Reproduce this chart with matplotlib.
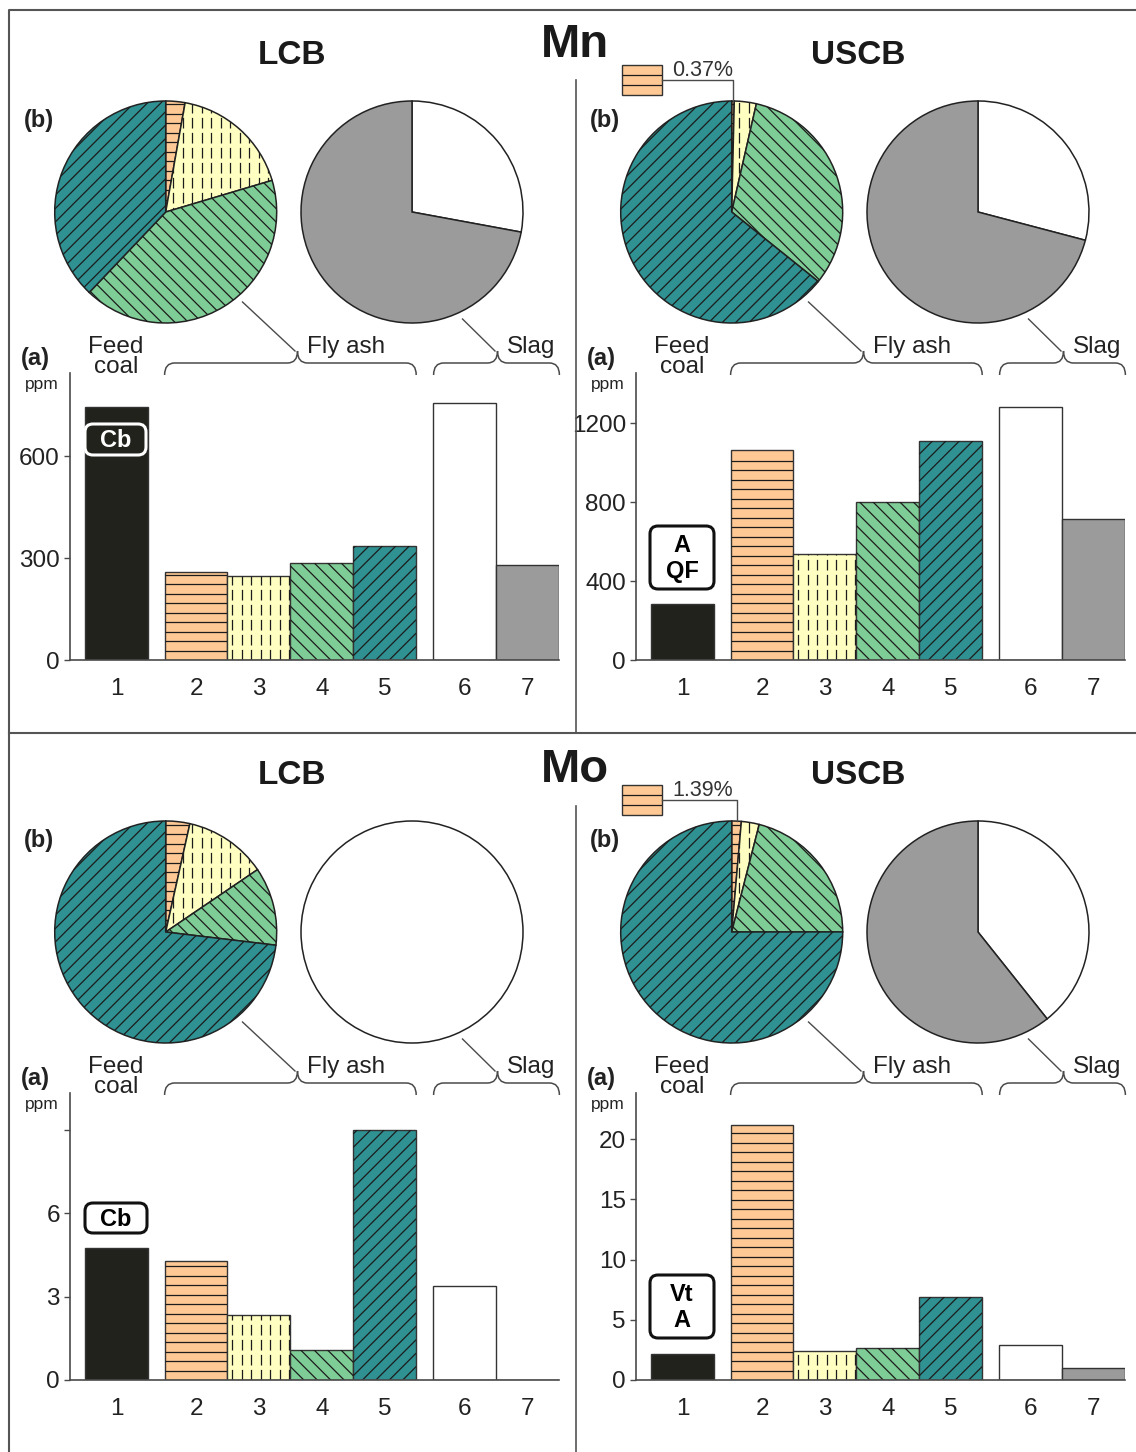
import numpy as np
import matplotlib
matplotlib.use('Agg')
import matplotlib.pyplot as plt
from matplotlib.patches import Rectangle, FancyBboxPatch, PathPatch
from matplotlib.collections import LineCollection
from matplotlib.path import Path

plt.rcParams['font.family'] = ['Liberation Sans', 'DejaVu Sans']

W, H = 1136, 1452

# ---- data ----
samples = ['1', '2', '3', '4', '5', '6', '7']

# concentrations (ppm) of samples 1..7
mn_lcb = [745, 260, 247, 286, 337, 757, 281]
mn_uscb = [284, 1064, 537, 801, 1108, 1284, 715]
mo_lcb = [4.76, 4.28, 2.34, 1.07, 9.0, 3.39, 0.0]
mo_uscb = [2.14, 21.2, 2.37, 2.64, 6.88, 2.87, 1.03]

# pie shares (%) : fly ash = samples 2-5, slag = samples 6-7
mn_lcb_fly = [2.8, 17.6, 41.7, 37.9]
mn_lcb_slag = [27.9, 72.1]
mn_uscb_fly = [0.37, 3.2, 32.2, 64.23]
mn_uscb_slag = [29.1, 70.9]
mo_lcb_fly = [3.5, 12.0, 11.4, 73.1]
mo_lcb_slag = [100.0, 0.0]
mo_uscb_fly = [1.39, 2.6, 21.0, 75.01]
mo_uscb_slag = [39.3, 60.7]

# y axis ticks
mn_lcb_ticks = [0, 300, 600]
mn_uscb_ticks = [0, 400, 800, 1200]
mo_lcb_ticks = [0, 3, 6, 9]
mo_uscb_ticks = [0, 5, 10, 15, 20]

# ---- style ----
fills = ['#22221d', '#fec994', '#ffffc2', '#7fcd96', '#2f9192', '#ffffff', '#9b9b9b']
hatches = [None, 'h', 'v', 'b', 'f', None, None]
xpos = [0, 1.266, 2.266, 3.266, 4.266, 5.54, 6.54]
XLIM = (-0.744, 7.043)
LINE = '#4a4a4a'

fig = plt.figure(figsize=(W / 100, H / 100), dpi=100)


def px_axes(x0, y0, w, h):
    return fig.add_axes([x0 / W, 1 - (y0 + h) / H, w / W, h / H])


def add_hatch(ax, patch, kind, x0, x1, y0, y1, sx, sy, step=9.5):
    X0, X1, Y0, Y1 = x0 * sx, x1 * sx, y0 * sy, y1 * sy
    segs = []
    if kind == 'h':
        for Y in np.arange(Y0 + step, Y1 - 1, step):
            segs.append([(x0, Y / sy), (x1, Y / sy)])
    elif kind == 'v':
        for X in np.arange(X0 + step / 2, X1, step):
            segs.append([(X / sx, y0), (X / sx, y1)])
    else:
        sgn = 1 if kind == 'f' else -1
        cs = [Y0 - sgn * X0, Y0 - sgn * X1, Y1 - sgn * X0, Y1 - sgn * X1]
        for c in np.arange(min(cs), max(cs), step * np.sqrt(2)):
            segs.append([(X0 / sx, (sgn * X0 + c) / sy), (X1 / sx, (sgn * X1 + c) / sy)])
    ls = (0, (8.5, 3.5)) if kind == 'v' else 'solid'
    lc = LineCollection(segs, colors='#1c1c1c', linewidths=0.9, linestyles=ls,
                        zorder=patch.get_zorder() + 0.1)
    ax.add_collection(lc, autolim=False)
    lc.set_clip_path(patch)


def bar_panel(dx, dy, vals, ticks, ymax, ticklabels=None):
    left, right, top, base = 69.6, 559.4, 373, 660
    ax = px_axes(left + dx, top + dy, right - left, base - top)
    sx = (right - left) / (XLIM[1] - XLIM[0])
    sy = (base - top) / ymax
    bars = ax.bar(xpos, vals, width=1, color=fills, edgecolor='#333333', linewidth=1)
    for x, v, rect, hk in zip(xpos, vals, bars, hatches):
        if hk and v > 0:
            add_hatch(ax, rect, hk, x - 0.5, x + 0.5, 0, v, sx, sy)
    ax.set_xlim(*XLIM)
    ax.set_ylim(0, ymax)
    ax.set_xticks(xpos, samples)
    ax.set_yticks(ticks, ticklabels if ticklabels else [str(t) for t in ticks])
    ax.tick_params(axis='x', length=0, pad=13, labelsize=17.5, labelcolor='#222222')
    ax.tick_params(axis='y', length=4, width=1, color=LINE, pad=3, labelsize=17.5, labelcolor='#222222')
    for s in ['top', 'right']:
        ax.spines[s].set_visible(False)
    for s in ['left', 'bottom']:
        ax.spines[s].set_color(LINE)
        ax.spines[s].set_linewidth(1.2)
    ax.patch.set_visible(False)
    return ax


def pie_panel(cx, cy, r, shares, cols, kinds):
    ax = px_axes(cx - r, cy - r, 2 * r, 2 * r)
    keep = [i for i, v in enumerate(shares) if v > 0]
    wedges, _ = ax.pie([shares[i] for i in keep], colors=[cols[i] for i in keep],
                       startangle=90, counterclock=False, radius=1,
                       wedgeprops=dict(edgecolor='#222222', linewidth=1.1))
    for w, i in zip(wedges, keep):
        w.set_clip_on(False)
        if kinds[i]:
            add_hatch(ax, w, kinds[i], -1, 1, -1, 1, r, r)
    ax.set_xlim(-1, 1)
    ax.set_ylim(-1, 1)
    ax.axis('off')
    return ax


# ---- panels ----
panels = [
    # dx, dy, bars, ticks, ymax, fly, slag, ticklabels
    (0, 0, mn_lcb, mn_lcb_ticks, 845, mn_lcb_fly, mn_lcb_slag, None),
    (566, 0, mn_uscb, mn_uscb_ticks, 1455, mn_uscb_fly, mn_uscb_slag, None),
    (0, 720, mo_lcb, mo_lcb_ticks, 10.33, mo_lcb_fly, mo_lcb_slag, ['0', '3', '6', '']),
    (566, 720, mo_uscb, mo_uscb_ticks, 23.85, mo_uscb_fly, mo_uscb_slag, None),
]
for dx, dy, vals, ticks, ymax, fly, slag, tl in panels:
    bar_panel(dx, dy, vals, ticks, ymax, tl)
    pie_panel(165.7 + dx, 212 + dy, 111, fly, fills[1:5], hatches[1:5])
    pie_panel(412 + dx, 212 + dy, 111, slag, fills[5:7], hatches[5:7])

# ---- overlay: frame, labels, braces, callouts ----
ov = fig.add_axes([0, 0, 1, 1])
ov.set_xlim(0, W)
ov.set_ylim(H, 0)
ov.axis('off')
ov.patch.set_visible(False)

ov.plot([8.5, 8.5, W], [H, 10, 10], color='#555555', lw=1.5)
ov.plot([8.5, W], [733, 733], color='#555555', lw=1.5)
ov.plot([575.5, 575.5], [80, 733], color='#555555', lw=1.2)
ov.plot([575.5, 575.5], [806, H], color='#555555', lw=1.2)

ov.text(575, 45, 'Mn', ha='center', va='center', fontsize=34, fontweight='bold', color='#1a1a1a')
ov.text(575, 770, 'Mo', ha='center', va='center', fontsize=34, fontweight='bold', color='#1a1a1a')


def brace(x0, x1, xt, yb, yt, ytip, r=10):
    verts = [(x0, yb), (x0, yt), (x0 + r, yt), (xt - r, yt), (xt, yt), (xt, ytip),
             (xt, yt), (xt + r, yt), (x1 - r, yt), (x1, yt), (x1, yb)]
    codes = [Path.MOVETO, Path.CURVE3, Path.CURVE3, Path.LINETO, Path.CURVE3, Path.CURVE3,
             Path.CURVE3, Path.CURVE3, Path.LINETO, Path.CURVE3, Path.CURVE3]
    ov.add_patch(PathPatch(Path(verts, codes), fc='none', ec=LINE, lw=1.1))


def hatched_key(x0, y0, x1, y1):
    rect = Rectangle((x0, y0), x1 - x0, y1 - y0, fc=fills[1], ec='#333333', lw=1)
    ov.add_patch(rect)
    add_hatch(ov, rect, 'h', x0, x1, y0, y1, 1, 1, step=10)


for dx, dy, basin in [(0, 0, 'LCB'), (566, 0, 'USCB'), (0, 720, 'LCB'), (566, 720, 'USCB')]:
    ov.text(292 + dx, 55 + dy, basin, ha='center', va='center', fontsize=24, fontweight='bold', color='#1a1a1a')
    ov.text(38.5 + dx, 121 + dy, '(b)', ha='center', va='center', fontsize=17, fontweight='bold', color='#222222')
    ov.text(35 + dx, 358 + dy, '(a)', ha='center', va='center', fontsize=17, fontweight='bold', color='#222222')
    ov.text(42 + dx, 385 + dy, 'ppm', ha='center', va='center', fontsize=12.5, color='#222222')
    ov.text(116 + dx, 347 + dy, 'Feed', ha='center', va='center', fontsize=17.5, color='#222222')
    ov.text(116 + dx, 367 + dy, 'coal', ha='center', va='center', fontsize=17.5, color='#222222')
    ov.text(346 + dx, 347 + dy, 'Fly ash', ha='center', va='center', fontsize=17.5, color='#222222')
    ov.text(531 + dx, 347 + dy, 'Slag', ha='center', va='center', fontsize=17.5, color='#222222')
    brace(164.6 + dx, 416.2 + dx, 297.5 + dx, 375 + dy, 363 + dy, 351 + dy)
    brace(433.6 + dx, 559.4 + dx, 497.5 + dx, 375 + dy, 363 + dy, 351 + dy)
    ov.plot([242.5 + dx, 295 + dx], [302 + dy, 351 + dy], color=LINE, lw=1)
    ov.plot([462.5 + dx, 495 + dx], [319 + dy, 351 + dy], color=LINE, lw=1)

# orange share callouts for USCB fly-ash pies
for dy, share in [(0, mn_uscb_fly[0]), (720, mo_uscb_fly[0])]:
    cx, top = 165.7 + 566, 212 + dy - 111
    xl = cx + 111 * np.sin(np.radians(share * 3.6 / 2))
    hatched_key(622, 65 + dy, 662, 95 + dy)
    ov.plot([662, xl, xl], [80 + dy, 80 + dy, top], color=LINE, lw=1)
    ov.text(672, 70 + dy, f'{share:.2f}%', ha='left', va='center', fontsize=15.5, color='#333333')

# group boxes on feed coal bars
boxes = [
    (85, 424, 146, 455, 'Cb', '#22221d', 'white', 'white'),
    (650, 526, 714, 589, 'A\nQF', 'white', '#111111', 'black'),
    (85, 1203, 147, 1233, 'Cb', 'white', '#111111', 'black'),
    (650, 1275, 714, 1338, 'Vt\nA', 'white', '#111111', 'black'),
]
for x0, y0, x1, y1, lab, fc, ec, tc in boxes:
    ov.add_patch(FancyBboxPatch((x0 + 4, y0 + 4), x1 - x0 - 8, y1 - y0 - 8,
                                boxstyle='round,pad=4,rounding_size=8', fc=fc, ec=ec, lw=2.2))
    ov.text((x0 + x1) / 2, (y0 + y1) / 2 + 1, lab, ha='center', va='center', fontsize=17,
            fontweight='bold', color=tc, linespacing=1.15)

fig.savefig('out.png', dpi=100)
